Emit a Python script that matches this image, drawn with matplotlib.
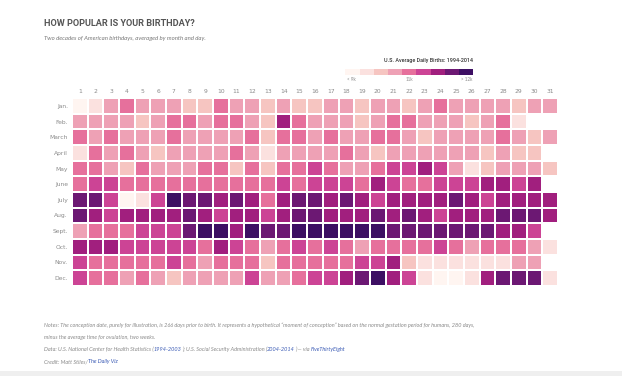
"""
Heatmap of average U.S. daily births by month and day (1994-2014)
"""
import numpy as np
import matplotlib
matplotlib.use("Agg")
import matplotlib.pyplot as plt
from matplotlib.colors import ListedColormap, BoundaryNorm
from matplotlib.patches import Rectangle

W, H = 622, 376

months = ["Jan.", "Feb.", "March", "April", "May", "June",
          "July", "Aug.", "Sept.", "Oct.", "Nov.", "Dec."]
days = list(range(1, 32))

# colour bin (0 = fewest births, 8 = most) for each day
# None = the date does not exist
jan = [0, 1, 3, 4, 3, 3, 3, 2, 2, 4, 3, 3, 2, 3, 2, 2, 3, 3, 2, 3, 3, 2, 3, 4, 3, 3, 3, 3, 2, 3, 3]
feb = [3, 3, 3, 3, 2, 3, 4, 4, 3, 4, 4, 3, 2, 6, 4, 3, 3, 3, 2, 3, 4, 4, 3, 3, 3, 2, 3, 4, 1, None, None]
mar = [4, 3, 4, 3, 3, 3, 4, 3, 3, 3, 3, 4, 2, 4, 4, 3, 4, 3, 3, 4, 4, 3, 2, 3, 3, 3, 3, 4, 3, 2, 3]
apr = [1, 4, 3, 4, 3, 2, 3, 3, 3, 3, 4, 3, 1, 3, 3, 3, 3, 4, 3, 2, 3, 3, 3, 3, 3, 3, 2, 3, 2, 2, None]
may = [4, 4, 3, 2, 4, 3, 3, 3, 4, 4, 2, 4, 2, 4, 4, 5, 4, 3, 3, 4, 5, 5, 6, 5, 3, 1, 2, 3, 3, 3, 2]
jun = [4, 5, 5, 4, 4, 4, 4, 4, 4, 4, 4, 4, 4, 5, 4, 5, 5, 5, 4, 6, 5, 4, 4, 5, 5, 5, 6, 6, 5, 6, None]
jul = [7, 7, 5, 0, 1, 5, 8, 7, 7, 6, 7, 6, 4, 6, 7, 7, 6, 7, 6, 5, 6, 6, 6, 6, 7, 6, 5, 6, 6, 6, 6]
aug = [7, 6, 5, 6, 6, 6, 6, 7, 6, 5, 6, 6, 5, 6, 7, 7, 6, 6, 6, 7, 6, 7, 6, 5, 6, 6, 6, 7, 7, 7, 6]
sep = [3, 4, 4, 4, 5, 5, 5, 7, 8, 8, 6, 8, 7, 7, 8, 8, 8, 8, 8, 8, 7, 7, 7, 7, 7, 7, 7, 6, 6, 5, None]
oct_ = [6, 6, 6, 5, 5, 5, 5, 5, 4, 6, 5, 4, 3, 4, 5, 4, 5, 4, 3, 4, 4, 4, 4, 5, 4, 3, 4, 4, 4, 3, 1]
nov = [5, 4, 4, 4, 4, 4, 5, 4, 3, 4, 4, 4, 2, 4, 4, 4, 4, 4, 5, 5, 6, 2, 1, 1, 1, 1, 1, 1, 3, 3, None]
dec = [5, 4, 4, 3, 4, 3, 2, 3, 3, 3, 3, 5, 3, 3, 4, 5, 5, 6, 7, 8, 6, 5, 1, 0, 0, 1, 6, 7, 7, 7, 1]

legend_colors = ["#fff5f1", "#fbe1df", "#f6c5c1", "#eea1b5", "#e6709c",
                 "#cc4495", "#a11f7e", "#6c1873", "#3d0f63"]
legend_labels = ["< 9k", "11k", "> 12k"]

grey = "#555555"
light = "#8a8a8a"
link = "#3b5bb5"


def px(x, y):
    """pixel coords (top-left origin) -> figure fraction"""
    return x / W, 1 - y / H


def run_text(fig, x, y, pieces, **kw):
    """draw a line of text made of differently coloured pieces"""
    renderer = fig.canvas.get_renderer()
    cur = x
    for s, c in pieces:
        t = fig.text(*px(cur, y), s, color=c, va="center", ha="left", **kw)
        bb = t.get_window_extent(renderer=renderer)
        cur += bb.width


def main():
    fig = plt.figure(figsize=(W / 100, H / 100), dpi=100)
    fig.patch.set_facecolor("white")

    grid = np.array([[np.nan if v is None else v for v in row]
                     for row in [jan, feb, mar, apr, may, jun, jul, aug, sep, oct_, nov, dec]],
                    dtype=float)

    # heatmap
    left, top, right, bottom = 72, 98, 558, 286
    ax = fig.add_axes([left / W, 1 - bottom / H, (right - left) / W, (bottom - top) / H])
    cmap = ListedColormap(legend_colors)
    cmap.set_bad("white")
    norm = BoundaryNorm(np.arange(-0.5, 9.5, 1), cmap.N)
    ax.pcolormesh(np.ma.masked_invalid(grid), cmap=cmap, norm=norm,
                  edgecolors="white", linewidth=1.2)
    ax.set_xlim(0, 31)
    ax.set_ylim(12, 0)
    ax.set_xticks(np.arange(len(days)) + 0.5)
    ax.set_xticklabels(days)
    ax.set_yticks(np.arange(len(months)) + 0.5)
    ax.set_yticklabels(months)
    ax.xaxis.tick_top()
    ax.tick_params(length=0, labelsize=4.3, labelcolor=light, pad=3)
    for s in ax.spines.values():
        s.set_visible(False)

    # title + subtitle
    fig.text(*px(44, 24), "HOW POPULAR IS YOUR BIRTHDAY?", family="Roboto",
             weight="bold", size=6.6, color=grey, va="center")
    fig.text(*px(44, 38), "Two decades of American birthdays, averaged by month and day.",
             family="Lato", style="italic", size=4.3, color="#777777", va="center")

    # legend
    fig.text(*px(473, 60.5), "U.S. Average Daily Births: 1994-2014", family="Roboto",
             weight="medium", size=3.9, color="#333333", ha="right", va="center")
    lx0, lx1, ly0, ly1 = 345.5, 473, 69, 75
    bw = (lx1 - lx0) / len(legend_colors)
    for i, c in enumerate(legend_colors):
        x0, y0 = px(lx0 + i * bw, ly1)
        fig.patches.append(Rectangle((x0, y0), bw / W, (ly1 - ly0) / H, facecolor=c,
                                     edgecolor="none", transform=fig.transFigure))
    fig.text(*px(347, 79.5), legend_labels[0], family="Lato", size=3.3, color=light, va="center")
    fig.text(*px(409, 79.5), legend_labels[1], family="Lato", size=3.3, color=light,
             va="center", ha="center")
    fig.text(*px(472, 79.5), legend_labels[2], family="Lato", size=3.3, color=light,
             va="center", ha="right")

    # notes
    kw = dict(family="Lato", style="italic", size=3.95)
    note = ("Notes: The conception date, purely for illustration, is 266 days prior to birth. "
            "It represents a hypothetical \u201cmoment of conception\u201d based on the normal "
            "gestation period for humans, 280 days,")
    run_text(fig, 44, 325.5, [(note, light)], **kw)
    run_text(fig, 44, 337, [("minus the average time for ovulation, two weeks.", light)], **kw)
    run_text(fig, 44, 349.5, [
        ("Data: U.S. National Center for Health Statistics (", light),
        ("1994-2003", link),
        ("); U.S. Social Security Administration (", light),
        ("2004-2014", link),
        (") \u2014 via ", light),
        ("FiveThirtyEight", link),
    ], **kw)
    run_text(fig, 44, 362, [("Credit: Matt Stiles/", light), ("The Daily Viz", link)], **kw)

    # grey strip along the bottom edge
    fig.patches.append(Rectangle((0, 0), 1, 5 / H, facecolor="#efefef", edgecolor="none",
                                 transform=fig.transFigure))

    fig.savefig("out.png", dpi=100)


if __name__ == "__main__":
    main()
